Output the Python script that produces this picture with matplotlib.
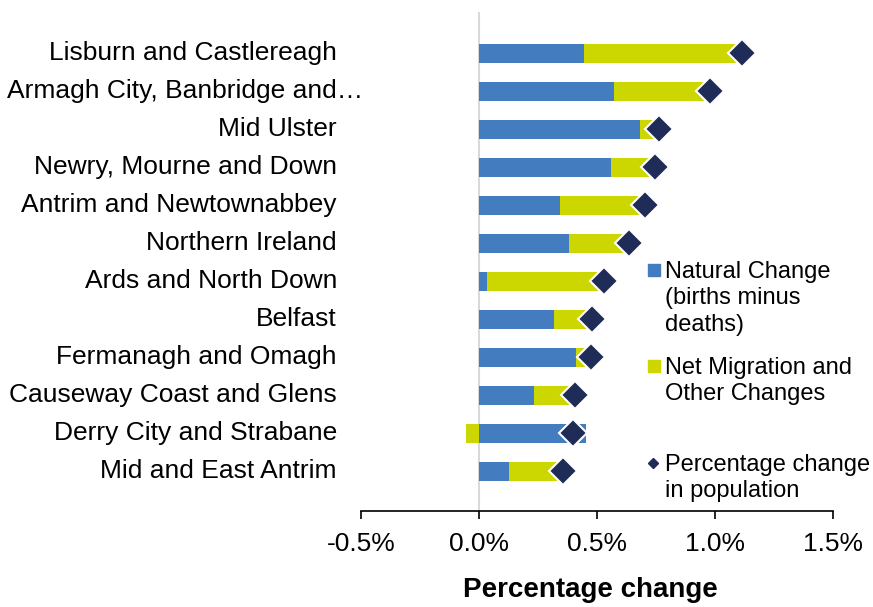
import matplotlib
matplotlib.use("Agg")
import matplotlib.pyplot as plt
from matplotlib.patches import Rectangle
import numpy as np

plt.rcParams['font.family'] = ['Liberation Sans', 'DejaVu Sans']

# areas, top to bottom
AREAS = [
    "Lisburn and Castlereagh",
    "Armagh City, Banbridge and\u2026",
    "Mid Ulster",
    "Newry, Mourne and Down",
    "Antrim and Newtownabbey",
    "Northern Ireland",
    "Ards and North Down",
    "Belfast",
    "Fermanagh and Omagh",
    "Causeway Coast and Glens",
    "Derry City and Strabane",
    "Mid and East Antrim",
]
# values in percent
natural = [0.445, 0.572, 0.682, 0.559, 0.343, 0.381, 0.032, 0.318, 0.411, 0.234, 0.452, 0.127]
migration = [0.671, 0.408, 0.082, 0.188, 0.362, 0.253, 0.498, 0.162, 0.064, 0.171, -0.055, 0.229]
total = [1.116, 0.980, 0.764, 0.747, 0.705, 0.634, 0.530, 0.480, 0.475, 0.405, 0.397, 0.356]
xticks = [-0.5, 0.0, 0.5, 1.0, 1.5]

BLUE = "#437CBF"
GREEN = "#CCD600"
NAVY = "#1F2C57"

W, H = 873, 607
fig = plt.figure(figsize=(W / 100, H / 100), dpi=100)
ax = fig.add_axes([361 / W, 1 - 511 / H, 472 / W, 499 / H])

y = np.arange(len(AREAS))
nat = np.array(natural)
mig = np.array(migration)

ax.axvline(0, color="#d9d9d9", lw=1.5, zorder=0)
ax.barh(y, nat, height=0.5, color=BLUE, zorder=2)
ax.barh(y, mig, left=np.where(mig >= 0, nat, 0), height=0.5, color=GREEN, zorder=2)
ax.plot(total, y, ls="none", marker="D", ms=14, color=NAVY,
        markeredgecolor="white", markeredgewidth=1.5, zorder=3)

ax.set_xlim(-0.5, 1.5)
ax.set_ylim(12.05, -1.08)
ax.set_xticks(xticks)
ax.set_xticklabels([f"{v:.1f}%" for v in xticks], fontsize=19)
ax.set_yticks([])
ax.tick_params(axis="x", direction="out", length=6, width=1.2, pad=9)
for s in ["top", "right", "left"]:
    ax.spines[s].set_visible(False)
ax.spines["bottom"].set_linewidth(1.2)
ax.set_xlabel("Percentage change", fontsize=20, fontweight="bold", labelpad=15)
ax.xaxis.label.set_x(0.487)

# category labels (the truncated one sits further right, as in the source)
ytrans = ax.get_yaxis_transform()
for i, name in enumerate(AREAS):
    xpos = 0.004 if name.endswith("\u2026") else -0.051
    ax.text(xpos, i, name, transform=ytrans, ha="right", va="center", fontsize=19)

# legend drawn on an overlay in pixel coordinates
lg = fig.add_axes([0, 0, 1, 1], facecolor="none")
lg.set_xlim(0, W)
lg.set_ylim(H, 0)
lg.axis("off")
lg.add_patch(Rectangle((648, 264), 12, 12, color=BLUE))
lg.add_patch(Rectangle((648, 360), 12, 12, color=GREEN))
lg.plot([653], [463], ls="none", marker="D", ms=5, color=NAVY)
legend_text = [
    (270, "Natural Change\n(births minus\ndeaths)"),
    (366, "Net Migration and\nOther Changes"),
    (463, "Percentage change\nin population"),
]
for ty, txt in legend_text:
    lg.text(665, ty - 9, txt, ha="left", va="top", fontsize=17, linespacing=1.25)

fig.savefig("out.png", dpi=100)
